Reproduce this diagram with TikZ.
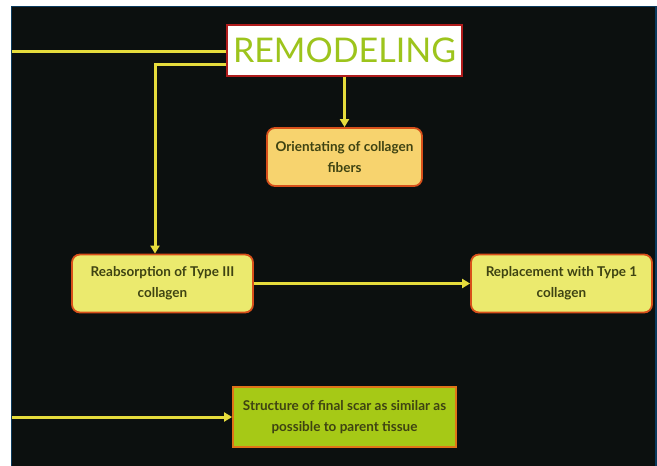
\documentclass[tikz,border=0pt]{standalone}
\usepackage{fontspec}
\setmainfont{Lato}
\usetikzlibrary{positioning,arrows.meta}

\definecolor{bgdark}{HTML}{0C100F}
\definecolor{framenavy}{HTML}{0B3B5E}
\definecolor{linkyellow}{HTML}{E6DC3C}
\definecolor{remodgreen}{HTML}{9DC41C}
\definecolor{remodred}{HTML}{B01C1C}
\definecolor{orientfill}{HTML}{F7D36E}
\definecolor{typefill}{HTML}{EBEA6E}
\definecolor{scarfill}{HTML}{A6C916}
\definecolor{edgeorange}{HTML}{D8501A}
\definecolor{scaredge}{HTML}{E07418}
\definecolor{boxtext}{HTML}{3E4312}

\tikzset{
  link/.style={draw=linkyellow, line width=3pt},
  arrowlink/.style={link, -{Triangle[length=8pt,width=9pt]}},
  stepbox/.style={draw=edgeorange, line width=1.8pt, rounded corners=8pt,
    text=boxtext, font=\fontsize{13.5}{21}\selectfont\bfseries, align=center,
    minimum height=58pt},
}

\begin{document}
\begin{tikzpicture}[x=1pt,y=-1pt]
    % page and dark slide
    \useasboundingbox (0,0) rectangle (657,466);
    \fill[white] (0,0) rectangle (657,466);
    \fill[bgdark] (11,6) rectangle (657,466);
    \draw[framenavy, line width=1.5pt] (11.5,466) -- (11.5,6.5) -- (656,6.5) -- (656,466);

    % title box
    \node[draw=remodred, line width=1.2pt, fill=white, text=remodgreen,
          minimum width=235pt, minimum height=51pt, inner sep=0pt,
          font=\fontsize{34}{34}\selectfont] (remod) at (344.5,50.5) {REMODELING};

    % steps
    \node[stepbox, fill=orientfill, minimum width=155pt] (orient) at (344.5,157)
        {Orientating of collagen\\fibers};
    \node[stepbox, fill=typefill, minimum width=181pt] (reab) at (162.5,283.5)
        {Reabsorption of Type III\\collagen};
    \node[stepbox, fill=typefill, minimum width=181pt] (repl) at (561.5,283.5)
        {Replacement with Type 1\\collagen};
    \node[stepbox, draw=scaredge, fill=scarfill, rounded corners=0pt, minimum width=223pt,
          minimum height=60pt, inner xsep=4pt] (final) at (344.5,417)
        {Structure of final scar as similar as\\possible to parent tissue};

    % free ends on the left edge
    \coordinate (lefttop) at (12,51);
    \coordinate (leftlow) at (12,417);
    \coordinate (bend) at (155,64);

    % connectors
    \draw[link] (lefttop) -- (remod.west |- lefttop);
    \draw[arrowlink] (remod.west |- bend) -- (bend) -- (bend |- reab.north);
    \draw[arrowlink] (remod.south) -- (orient.north);
    \draw[arrowlink] (reab.east) -- (repl.west);
    \draw[arrowlink] (leftlow) -- (final.west);
\end{tikzpicture}
\end{document}
